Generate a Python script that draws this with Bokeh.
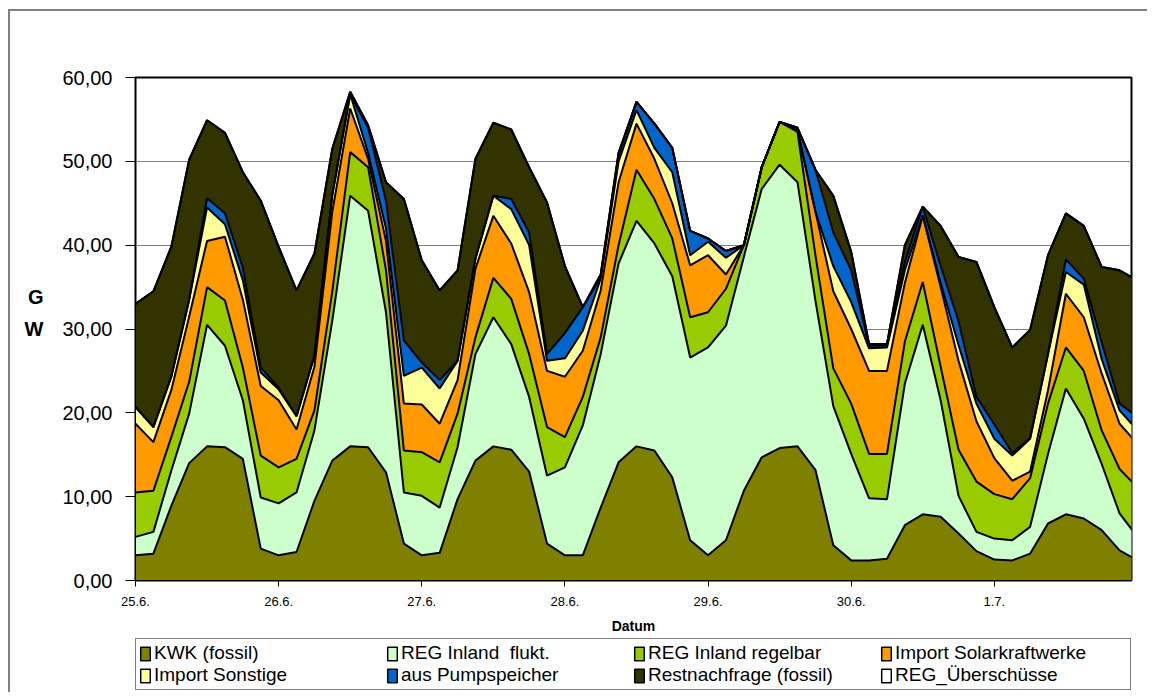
from bokeh.plotting import figure
from bokeh.layouts import column
from bokeh.models import ColumnDataSource, FixedTicker, Legend, LegendItem
from bokeh.embed import file_html
from bokeh.resources import INLINE

# hours since 25.6. 00:00 (3-hour steps)
hours = [0, 3, 6, 9, 12, 15, 18, 21, 24, 27, 30, 33, 36, 39, 42, 45, 48, 51, 54, 57,
         60, 63, 66, 69, 72, 75, 78, 81, 84, 87, 90, 93, 96, 99, 102, 105, 108, 111,
         114, 117, 120, 123, 126, 129, 132, 135, 138, 141, 144, 147, 150, 153, 156,
         159, 162, 165, 168]

kwk = [3.0, 3.2, 8.9, 14.0, 16.0, 15.9, 14.5, 3.8, 3.0,
       3.4, 9.5, 14.3, 16.0, 15.9, 12.9, 4.4,
       3.0, 3.3, 9.7, 14.3, 16.0, 15.6, 13.0, 4.4,
       3.0, 3.0, 8.7, 14.1, 16.0, 15.5, 12.3, 4.8,
       3.0, 4.8, 10.7, 14.7, 15.8, 16.0, 13.2, 4.2,
       2.4, 2.4, 2.6, 6.6, 7.9, 7.6, 5.6, 3.5,
       2.5, 2.4, 3.2, 6.8, 7.9, 7.4, 6.0, 3.6, 2.4]

reg_flukt = [2.2, 2.6, 4.2, 5.9, 14.5, 12.1, 7.0, 6.1, 6.2,
             7.1, 8.4, 16.7, 29.9, 28.2, 19.1, 6.1,
             7.1, 5.4, 6.2, 12.7, 15.4, 12.6, 8.9, 8.1,
             10.5, 15.5, 18.3, 23.7, 26.9, 24.7, 24.0, 21.8,
             24.8, 25.6, 27.9, 32.0, 33.8, 31.5, 20.2, 16.6,
             12.7, 7.4, 7.1, 16.9, 22.6, 13.9, 4.5, 2.3,
             2.5, 2.4, 3.2, 8.3, 15.0, 11.9, 7.9, 4.4, 2.8]

reg_regelbar = [5.3, 4.9, 4.0, 3.8, 4.5, 5.4, 3.9, 5.0, 4.3,
                4.0, 2.4, 3.5, 5.2, 5.2, 5.0, 5.0,
                5.2, 5.4, 4.0, 2.0, 4.7, 5.4, 5.1, 5.8,
                3.6, 3.4, 2.0, 2.2, 6.1, 5.3, 4.5, 4.8,
                4.2, 4.4, 1.4, 2.6, 5.1, 6.0, 5.4, 4.5,
                6.0, 5.3, 5.4, 5.0, 5.1, 4.0, 5.5, 6.0,
                5.3, 4.9, 5.8, 6.0, 4.9, 5.7, 4.0, 5.3, 5.9]

import_solar = [8.2, 5.8, 5.6, 7.8, 5.5, 7.6, 8.1, 8.3, 8.0,
                3.5, 5.2, 9.5, 5.2, 1.0, 3.5, 5.6,
                5.7, 4.6, 4.0, 8.2, 7.4, 6.6, 7.4, 6.7,
                7.2, 5.5, 5.6, 7.5, 5.5, 4.8, 4.2, 6.2,
                6.8, 1.7, 0.0, 0.0, 0.0, 0.2, 5.2, 9.2,
                8.9, 9.9, 9.9, 7.0, 7.9, 9.5, 10.6, 7.2,
                4.3, 2.2, 0.8, 1.6, 6.4, 6.4, 6.8, 5.4, 5.2]

import_sonstige = [2.0, 1.8, 1.6, 2.0, 4.0, 1.5, 2.3, 1.6, 1.3,
                   1.6, 1.3, 2.0, 1.7, 0.7, 1.5, 3.3,
                   4.4, 4.2, 2.3, 1.2, 2.4, 4.1, 5.6, 1.2,
                   2.2, 2.4, 1.4, 2.5, 1.6, 1.3, 3.7, 1.2,
                   1.6, 2.0, 0.0, 0.0, 0.0, 0.0, 0.0, 3.0,
                   3.2, 2.7, 2.8, 1.5, 0.1, 0.5, 1.9, 2.1,
                   2.3, 3.0, 3.9, 4.3, 2.6, 3.9, 1.7, 1.6, 1.6]

pumpspeicher = [0.0, 0.0, 0.0, 0.0, 1.1, 1.3, 1.5, 0.6, 0.2,
                0.0, 0.0, 0.0, 0.0, 3.0, 3.3, 4.2,
                0.6, 1.0, 0.0, 0.0, 0.0, 1.2, 1.5, 0.8,
                3.0, 2.8, 0.2, 0.8, 1.0, 2.9, 2.9, 2.9,
                0.4, 0.8, 0.0, 0.0, 0.0, 0.3, 5.0, 4.0,
                3.8, 0.3, 0.2, 1.0, 1.0, 2.0, 2.8, 0.8,
                1.7, 0.3, 0.1, 0.0, 1.5, 0.7, 2.0, 0.8, 1.6]

restnachfrage = [12.3, 16.2, 15.5, 16.7, 9.3, 9.6, 11.4, 19.9, 16.8,
                 15.0, 12.2, 5.5, 0.3, 0.3, 2.2, 16.9,
                 12.2, 10.7, 10.8, 11.9, 8.7, 8.3, 7.8, 18.1,
                 8.0, 0.0, 0.3, 0.2, 0.0, 0.0, 0.0, 0.0,
                 0.0, 0.0, 0.0, 0.0, 0.0, 0.0, 0.0, 4.4,
                 2.2, 0.2, 0.2, 2.0, 0.0, 4.8, 7.7, 16.1,
                 14.0, 12.6, 12.9, 11.8, 5.5, 6.3, 9.0, 15.9, 16.3]

reg_ueberschuesse = [0.0] * len(hours)

day_ticks = [0, 24, 48, 72, 96, 120, 144]
day_labels = ["25.6.", "26.6.", "27.6.", "28.6.", "29.6.", "30.6.", "1.7."]
y_ticks = [0, 10, 20, 30, 40, 50, 60]
y_labels = ["0,00", "10,00", "20,00", "30,00", "40,00", "50,00", "60,00"]

series_names = ["kwk", "reg_flukt", "reg_regelbar", "import_solar",
                "import_sonstige", "pumpspeicher", "restnachfrage", "reg_ueberschuesse"]
series_labels = ["KWK (fossil)", "REG Inland  flukt.", "REG Inland regelbar",
                 "Import Solarkraftwerke", "Import Sonstige", "aus Pumpspeicher",
                 "Restnachfrage (fossil)", "REG_Überschüsse"]
series_colors = ["#808000", "#CCFFCC", "#99CC00", "#FF9900",
                 "#FFFF99", "#0066CC", "#333300", "#FFFFFF"]

source = ColumnDataSource(dict(
    h=hours, kwk=kwk, reg_flukt=reg_flukt, reg_regelbar=reg_regelbar,
    import_solar=import_solar, import_sonstige=import_sonstige,
    pumpspeicher=pumpspeicher, restnachfrage=restnachfrage,
    reg_ueberschuesse=reg_ueberschuesse))

FONT = "Liberation Sans"

p = figure(width=1147, height=638, x_range=(0, 167), y_range=(0, 60),
           output_backend="svg", toolbar_location=None,
           min_border_left=135, min_border_right=16,
           min_border_top=77, min_border_bottom=58)

p.background_fill_color = "white"
p.border_fill_alpha = 0
p.outline_line_color = "black"
p.outline_line_width = 2

# areas
p.varea_stack(stackers=series_names, x="h", color=series_colors, source=source)
p.vline_stack(stackers=series_names, x="h", color="black", line_width=2, source=source)

# grid
p.xgrid.visible = False
p.ygrid.ticker = FixedTicker(ticks=y_ticks)
p.ygrid.grid_line_color = "#808080"
p.ygrid.grid_line_width = 1

# y axis
p.yaxis.ticker = FixedTicker(ticks=y_ticks)
p.yaxis.major_label_overrides = {t: l for t, l in zip(y_ticks, y_labels)}
p.yaxis.major_label_text_font = FONT
p.yaxis.major_label_text_font_size = "20px"
p.yaxis.major_label_text_color = "black"
p.yaxis.major_tick_out = 10
p.yaxis.major_tick_in = 0
p.yaxis.minor_tick_out = 0
p.yaxis.minor_tick_in = 0
p.yaxis.major_label_standoff = 13
p.yaxis.axis_line_color = "black"
p.yaxis.axis_label = "G\nW\n "
p.yaxis.axis_label_orientation = "horizontal"
p.yaxis.axis_label_text_font = FONT
p.yaxis.axis_label_text_font_style = "bold"
p.yaxis.axis_label_text_font_size = "20px"
p.yaxis.axis_label_text_color = "black"
p.yaxis.axis_label_text_line_height = 1.45
p.yaxis.axis_label_standoff = 16

# x axis
p.xaxis.ticker = FixedTicker(ticks=day_ticks)
p.xaxis.major_label_overrides = {t: l for t, l in zip(day_ticks, day_labels)}
p.xaxis.major_label_text_font = FONT
p.xaxis.major_label_text_font_size = "13px"
p.xaxis.major_label_text_color = "black"
p.xaxis.major_tick_out = 6
p.xaxis.major_tick_in = 0
p.xaxis.minor_tick_out = 0
p.xaxis.minor_tick_in = 0
p.xaxis.major_label_standoff = 10
p.xaxis.axis_line_color = "black"
p.xaxis.axis_label = "Datum"
p.xaxis.axis_label_text_font = FONT
p.xaxis.axis_label_text_font_style = "bold"
p.xaxis.axis_label_text_font_size = "14px"
p.xaxis.axis_label_text_color = "black"
p.xaxis.axis_label_standoff = 9

# legend figure below the chart (its frame is aligned with the chart frame)
pl = figure(width=1147, height=54, x_range=(0, 1), y_range=(0, 1),
            output_backend="svg", toolbar_location=None, min_border=0,
            x_axis_location=None, y_axis_location=None)
pl.outline_line_color = None
pl.grid.visible = False
pl.background_fill_color = "white"
pl.border_fill_alpha = 0

nan = float("nan")
items = []
for lab, col in zip(series_labels, series_colors):
    r = pl.quad(left=[nan], right=[nan], top=[nan], bottom=[nan], fill_color=col,
                line_color="black", line_width=1.5)
    items.append(LegendItem(label=lab, renderers=[r]))

legend = Legend(items=items, orientation="horizontal", nrows=2,
                location=(0, 2),
                label_text_font=FONT, label_text_font_size="19px",
                label_text_color="black",
                glyph_width=12, glyph_height=17, label_standoff=3,
                label_width=232, label_height=17, spacing=0,
                padding=3, margin=0,
                border_line_color="black", border_line_width=1.5,
                background_fill_color="white", background_fill_alpha=1.0)
pl.add_layout(legend, "center")

# thin grey chart-area frame (left and top edges) behind the transparent borders
frame_css = {
    "background-color": "white",
    "background-image": "linear-gradient(#808080, #808080), linear-gradient(#808080, #808080)",
    "background-position": "8px 9px, 8px 9px",
    "background-size": "2px 100%, 100% 2px",
    "background-repeat": "no-repeat, no-repeat",
}

layout = column(p, pl, spacing=0, styles=frame_css)
open("out.html", "w").write(file_html(layout, INLINE))
